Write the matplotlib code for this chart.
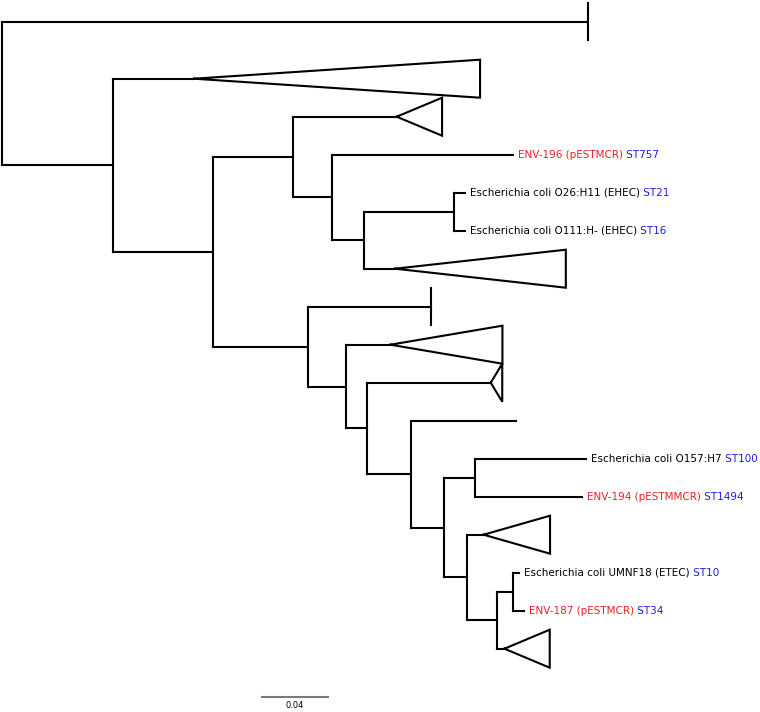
import matplotlib
matplotlib.use("Agg")
import matplotlib.pyplot as plt

# ---------------- data ----------------
# Leaf labels (name part, colour kind, sequence type)
leaf_names = ["ENV-196 (pESTMCR)", "Escherichia coli O26:H11 (EHEC)",
              "Escherichia coli O111:H- (EHEC)", "",
              "Escherichia coli O157:H7", "ENV-194 (pESTMMCR)",
              "Escherichia coli UMNF18 (ETEC)", "ENV-187 (pESTMCR)"]
leaf_st = ["ST757", "ST21", "ST16", "", "ST100", "ST1494", "ST10", "ST34"]
leaf_is_env = [True, False, False, False, False, True, False, True]

# Vertical slot of every terminal (leaf or collapsed clade), top to bottom
terminal_y = [0, 1.5, 2.5, 3.5, 4.5, 5.5, 6.5, 7.5, 8.5, 9.5,
              10.5, 11.5, 12.5, 13.5, 14.5, 15.5, 16.5]

# Tree: ("node", branch_length, [children]) / ("clade", branch_length, clade_depth)
#       ("leaf", branch_length, leaf_index)   -- branch lengths in substitutions/site
tree = ("node", 0.0, [
    ("clade", 0.3452, 0.0),
    ("node", 0.0650, [
        ("clade", 0.0481, 0.1687),
        ("node", 0.0595, [
            ("node", 0.0472, [
                ("clade", 0.0609, 0.0268),
                ("node", 0.0228, [
                    ("leaf", 0.1068, 0),
                    ("node", 0.0186, [
                        ("node", 0.0532, [
                            ("leaf", 0.0067, 1),
                            ("leaf", 0.0067, 2),
                        ]),
                        ("clade", 0.0186, 0.1007),
                    ]),
                ]),
            ]),
            ("node", 0.0558, [
                ("clade", 0.0727, 0.0),
                ("node", 0.0223, [
                    ("clade", 0.0263, 0.0661),
                    ("node", 0.0126, [
                        ("clade", 0.0729, 0.0068),
                        ("node", 0.0260, [
                            ("leaf", 0.0621, 3),
                            ("node", 0.0192, [
                                ("node", 0.0186, [
                                    ("leaf", 0.0655, 4),
                                    ("leaf", 0.0629, 5),
                                ]),
                                ("node", 0.0135, [
                                    ("clade", 0.0100, 0.0392),
                                    ("node", 0.0178, [
                                        ("node", 0.0094, [
                                            ("leaf", 0.0037, 6),
                                            ("leaf", 0.0065, 7),
                                        ]),
                                        ("clade", 0.0045, 0.0267),
                                    ]),
                                ]),
                            ]),
                        ]),
                    ]),
                ]),
            ]),
        ]),
    ]),
])

scale_len = 0.04
scale_label = "0.04"

# ---------------- drawing ----------------
W, H, DPI = 760, 712, 100
PX_PER_UNIT = 1695.0
X0_PX = 2.4
Y0_PX, SLOT_PX = 21.7, 38.0

fig = plt.figure(figsize=(W / DPI, H / DPI), dpi=DPI)
ax = fig.add_axes([0, 0, 1, 1])
ax.set_xlim(-X0_PX / PX_PER_UNIT, (W - X0_PX) / PX_PER_UNIT)
ax.set_ylim((H - Y0_PX) / SLOT_PX, -Y0_PX / SLOT_PX)
ax.axis("off")

LW = 1.5
RED = "#ee1f24"
BLUE = "#1c1ce0"
FS = 7.5
counter = [0]


def draw(node, x_parent, y_parent_unused=None):
    kind, bl, payload = node
    x = x_parent + bl
    if kind == "node":
        ys = [draw(ch, x) for ch in payload]
        y = (ys[0] + ys[-1]) / 2.0
        ax.plot([x, x], [ys[0], ys[-1]], color="black", lw=LW)
    else:
        y = terminal_y[counter[0]]
        counter[0] += 1
        if kind == "clade":
            depth = payload
            if depth == 0:
                ax.plot([x, x], [y - 0.49, y + 0.49], color="black", lw=LW)
            else:
                ax.plot([x, x + depth, x + depth, x],
                        [y, y - 0.5, y + 0.5, y], color="black", lw=LW,
                        solid_joinstyle="miter")
        else:
            i = payload
            if leaf_names[i]:
                col = RED if leaf_is_env[i] else "black"
                t1 = ax.annotate(leaf_names[i], xy=(x, y), xytext=(5, 0),
                                 textcoords="offset pixels", color=col,
                                 fontsize=FS, va="center", ha="left",
                                 family="DejaVu Sans")
                ax.annotate(" " + leaf_st[i], xy=(1, 0.5), xycoords=t1,
                            color=BLUE, fontsize=FS, va="center", ha="left",
                            family="DejaVu Sans")
    if bl > 0:
        ax.plot([x_parent, x], [y, y], color="black", lw=LW)
    return y


draw(tree, 0.0)

# scale bar
sb_x0 = (260.8 - X0_PX) / PX_PER_UNIT
sb_y = (696.7 - Y0_PX) / SLOT_PX
ax.plot([sb_x0, sb_x0 + scale_len], [sb_y, sb_y], color="#7a7a7a", lw=LW,
        solid_capstyle="butt")
ax.text(sb_x0 + scale_len / 2, sb_y + 0.12, scale_label, ha="center",
        va="top", fontsize=6, color="black")

fig.savefig("out.png", dpi=DPI)
